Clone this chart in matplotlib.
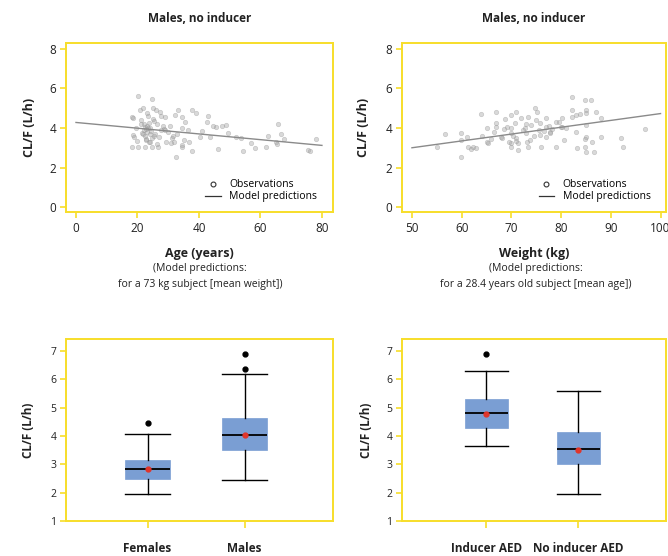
import numpy as np
import matplotlib
matplotlib.use("Agg")
import matplotlib.pyplot as plt
from matplotlib.lines import Line2D

plt.rcParams['font.family'] = ['Open Sans', 'DejaVu Sans']

# --- data ---
age = [20.3, 24.8, 18.3, 18.5, 18.6, 19.0, 18.3, 20.8, 21.9, 25.1, 26.0, 23.0, 21.3,
       22.0, 22.5, 23.0, 23.5, 24.0, 22.8, 23.2, 24.3, 22.2, 21.5, 23.8, 24.6, 25.5,
       20.3, 22.4, 24.6, 26.8, 29.3, 27.3, 28.9, 32.2, 33.3, 34.4, 34.6, 32.4, 34.4,
       34.6, 37.8, 39.0, 37.6, 40.3, 42.5, 43.0, 43.6, 46.3, 45.7, 47.4, 48.7, 49.3,
       52.2, 53.7, 54.2, 58.2, 61.8, 65.0, 65.7, 65.5, 66.7, 67.8, 75.6, 76.0, 78.0,
       21.0, 22.7, 23.6, 24.9, 25.8, 26.5, 27.7, 28.2, 29.8, 30.5, 31.2, 31.8, 33.0,
       35.5, 36.4, 24.2, 23.4, 22.6, 25.3, 27.0, 28.6, 30.8, 19.6, 20.0, 26.2,
       35.0, 31.5, 29.0, 27.5, 24.0, 22.9, 21.8, 36.8, 41.0, 44.5, 57.0, 62.5]
cl_age = [5.62, 5.45, 4.57, 4.50, 3.65, 3.55, 3.05, 4.90, 5.00, 5.00, 4.90, 4.75, 4.40,
          3.90, 4.05, 3.80, 4.00, 3.70, 3.95, 4.10, 3.85, 4.20, 3.75, 4.25, 3.50, 3.60,
          3.05, 3.05, 3.05, 3.05, 3.30, 4.80, 4.57, 4.65, 4.90, 3.05, 3.15, 2.55, 4.00,
          4.57, 4.90, 4.75, 2.85, 3.55, 4.30, 4.60, 3.55, 2.95, 4.07, 4.10, 4.15, 3.73,
          3.55, 3.50, 2.85, 3.00, 3.05, 3.30, 4.20, 3.20, 3.70, 3.43, 2.90, 2.85, 3.43,
          4.20, 3.40, 3.30, 4.45, 3.70, 4.20, 3.90, 4.10, 3.80, 4.10, 3.50, 3.30, 3.70,
          4.30, 3.90, 3.30, 4.60, 3.60, 4.35, 3.55, 3.95, 3.25, 4.00, 3.35, 3.20,
          3.40, 3.60, 3.90, 4.60, 4.00, 3.45, 3.70, 3.30, 3.85, 4.10, 3.25, 3.60]
age_line_x = [0, 80]
age_line_y = [4.28, 3.12]

weight = [55.0, 56.7, 59.8, 59.9, 59.9, 61.0, 61.3, 61.8, 62.3, 63.9, 65.0, 65.0, 65.3,
          66.0, 67.0, 67.0, 67.0, 67.9, 68.2, 68.7, 69.1, 69.9, 69.9, 69.9, 69.9, 70.0,
          70.7, 70.9, 70.9, 71.4, 71.4, 72.0, 72.8, 72.9, 73.1, 73.4, 73.7, 73.4, 74.8,
          75.1, 75.0, 75.8, 75.8, 76.0, 76.9, 77.0, 77.0, 77.8, 77.8, 78.9, 78.9, 79.9,
          80.2, 80.1, 82.1, 82.1, 82.1, 82.9, 83.0, 83.2, 84.9, 85.0, 85.0, 85.0, 85.0,
          84.9, 84.9, 85.0, 86.0, 86.6, 87.1, 88.0, 88.0, 92.0, 92.4, 96.8,
          64.0, 66.5, 68.5, 71.0, 72.3, 74.0, 76.5, 78.2, 79.5, 81.0, 83.8, 86.2,
          70.3, 73.0, 75.5, 77.5, 80.5, 62.8, 69.5, 74.5]
cl_wt = [3.02, 3.68, 3.73, 3.39, 2.51, 3.56, 3.05, 2.92, 3.05, 4.69, 3.98, 3.31, 3.25,
         3.43, 4.83, 4.27, 4.03, 3.56, 3.48, 4.44, 4.07, 4.66, 4.00, 3.73, 3.05, 3.22,
         4.24, 4.83, 3.48, 2.89, 3.22, 4.49, 3.98, 3.73, 3.31, 4.57, 3.40, 3.05, 5.00,
         4.83, 4.40, 4.24, 3.64, 3.05, 4.49, 4.07, 3.56, 3.81, 3.73, 4.32, 3.05, 4.07,
         4.07, 4.49, 5.59, 4.91, 4.57, 4.66, 3.81, 2.97, 5.42, 4.91, 4.74, 4.15, 3.56,
         3.43, 3.05, 2.80, 5.42, 2.80, 4.83, 4.49, 3.56, 3.48, 3.05, 3.93,
         3.60, 3.80, 3.95, 3.35, 3.90, 4.15, 3.85, 3.95, 4.30, 4.00, 4.70, 3.30,
         3.60, 4.20, 3.90, 4.10, 3.40, 3.00, 3.30, 3.60]
wt_line_x = [50, 100]
wt_line_y = [3.00, 4.73]

sex_labels = ['Females', 'Males']
sex_whislo = [1.97, 2.45]
sex_q1 = [2.47, 3.52]
sex_med = [2.83, 4.05]
sex_q3 = [3.15, 4.63]
sex_whishi = [4.07, 6.17]
sex_mean = [2.82, 4.05]
sex_fliers = [[4.45], [6.35, 6.88]]

ind_labels = ['Inducer AED', 'No inducer AED']
ind_whislo = [3.63, 1.97]
ind_q1 = [4.27, 3.02]
ind_med = [4.80, 3.53]
ind_q3 = [5.30, 4.15]
ind_whishi = [6.28, 5.60]
ind_mean = [4.78, 3.52]
ind_fliers = [[6.88], []]

W, H = 668, 556
YELLOW = '#F7DE2A'
BOXC = '#7A9ED3'
TXT = '#222222'

fig = plt.figure(figsize=(W / 100, H / 100), dpi=100)


def px_axes(left, top, right, bottom):
    return fig.add_axes([left / W, 1 - bottom / H, (right - left) / W, (bottom - top) / H])


def style(ax):
    for s in ax.spines.values():
        s.set_color(YELLOW)
        s.set_linewidth(1.4)
    ax.tick_params(colors=YELLOW, labelcolor=TXT, width=1.2, length=4)


def put_ylabel(ax, size, xpos):
    ax.set_ylabel('CL/F (L/h)', fontsize=size, fontweight='bold', color=TXT)
    ax.yaxis.label.set_va('center')
    ax.yaxis.set_label_coords(xpos, 0.5)


def scatter_panel(ax, x, y, lx, ly, xlim, xticks, ylab_x):
    ax.plot(x, y, 'o', ms=3.2, mfc='#a0a0a0', mec='#909090', mew=0.5, alpha=0.4,
            linestyle='none')
    ax.plot(lx, ly, color='#8a8a8a', lw=1.0)
    ax.set_xlim(*xlim)
    ax.set_ylim(-0.25, 8.3)
    ax.set_xticks(xticks)
    ax.set_yticks([0, 2, 4, 6, 8])
    ax.tick_params(labelsize=8.5, pad=3)
    style(ax)
    handles = [Line2D([], [], marker='o', ls='none', mfc='none', mec='#333333', ms=3.5,
                      mew=0.8, label='Observations'),
               Line2D([], [], color='#333333', lw=0.9, label='Model predictions')]
    ax.legend(handles=handles, loc='lower right', bbox_to_anchor=(0.965, 0.02),
              frameon=False, fontsize=7.5, handlelength=1.5, handletextpad=0.8,
              labelspacing=0.1, borderaxespad=0.2)
    put_ylabel(ax, 9, ylab_x)
    ax.set_title('Males, no inducer', fontsize=8.5, fontweight='bold', color=TXT,
                 y=1 + 25 / 169, va='center', pad=0)


def box_panel(ax, labels, lo, q1, med, q3, hi, mean, fliers, xlim, ylab_x):
    stats = []
    for i in range(len(labels)):
        stats.append(dict(whislo=lo[i], q1=q1[i], med=med[i], q3=q3[i], whishi=hi[i],
                          mean=mean[i], fliers=fliers[i], label=labels[i]))
    ax.bxp(stats, positions=[1, 2], widths=0.47, patch_artist=True, showmeans=True,
           boxprops=dict(facecolor=BOXC, edgecolor=BOXC, linewidth=0.5),
           medianprops=dict(color='black', linewidth=1.3),
           whiskerprops=dict(color='black', linewidth=1.0),
           capprops=dict(color='black', linewidth=1.0), capwidths=0.47,
           meanprops=dict(marker='o', markerfacecolor='#E0352B', markeredgecolor='#E0352B',
                          markersize=3.5),
           flierprops=dict(marker='o', markerfacecolor='black', markeredgecolor='black',
                           markersize=3.5))
    ax.set_xlim(*xlim)
    ax.set_ylim(1, 7.42)
    ax.set_yticks(range(1, 8))
    style(ax)
    ax.tick_params(axis='y', labelsize=7.5, pad=3)
    ax.tick_params(axis='x', labelsize=8.5, pad=10, length=5)
    for t in ax.get_xticklabels():
        t.set_fontweight('bold')
    put_ylabel(ax, 8.5, ylab_x)


def under_text(ax, xcenter, label, line1, line2):
    ax.set_xlabel(label, fontsize=9, fontweight='bold', color=TXT)
    ax.xaxis.set_label_coords(0.5, -(253 - 212) / 169)
    ax.xaxis.label.set_va('center')
    fig.text(xcenter / W, 1 - 269 / H, line1, ha='center', va='center',
             fontsize=7.5, color=TXT)
    fig.text(xcenter / W, 1 - 285 / H, line2, ha='center', va='center',
             fontsize=7.5, color=TXT)


ax1 = px_axes(66, 43, 333, 212)
scatter_panel(ax1, age, cl_age, age_line_x, age_line_y, (-3.25, 83.6),
              [0, 20, 40, 60, 80], -0.135)
under_text(ax1, 200, 'Age (years)', '(Model predictions:',
           'for a 73 kg subject [mean weight])')

ax2 = px_axes(402, 43, 666, 212)
scatter_panel(ax2, weight, cl_wt, wt_line_x, wt_line_y, (48.0, 101.1),
              [50, 60, 70, 80, 90, 100], -0.144)
under_text(ax2, 536, 'Weight (kg)', '(Model predictions:',
           'for a 28.4 years old subject [mean age])')

ax3 = px_axes(66, 339, 333, 521)
box_panel(ax3, sex_labels, sex_whislo, sex_q1, sex_med, sex_q3, sex_whishi, sex_mean,
          sex_fliers, (0.16, 2.91), -0.142)

ax4 = px_axes(402, 339, 666, 521)
box_panel(ax4, ind_labels, ind_whislo, ind_q1, ind_med, ind_q3, ind_whishi, ind_mean,
          ind_fliers, (0.087, 2.95), -0.136)

fig.savefig('out.png', dpi=100)
